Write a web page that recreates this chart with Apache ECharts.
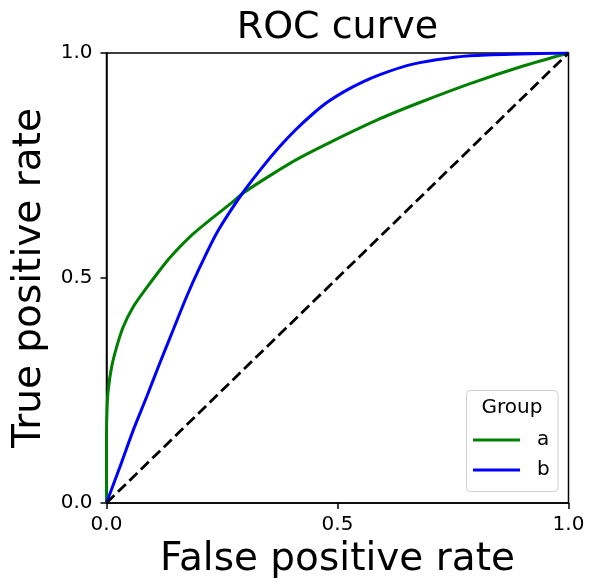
<!DOCTYPE html>
<html>
<head>
<meta charset="utf-8">
<script src="https://cdn.jsdelivr.net/npm/echarts@6/dist/echarts.min.js"></script>
<style>
html,body{margin:0;padding:0;background:#fff;}
#chart{width:589px;height:586px;}
</style>
</head>
<body>
<div id="chart"></div>
<script>
// Data (false positive rate, true positive rate)
const groupNames = ['a', 'b'];
const groupAFpr = [0, 0, 0.0012, 0.0036, 0.011, 0.022, 0.036, 0.058, 0.083, 0.11, 0.137, 0.180, 0.224, 0.267, 0.299, 0.375, 0.418, 0.483, 0.592, 0.678, 0.787, 0.895, 1];
const groupATpr = [0, 0.15, 0.21, 0.250, 0.302, 0.347, 0.391, 0.436, 0.473, 0.510, 0.545, 0.591, 0.629, 0.664, 0.691, 0.741, 0.767, 0.801, 0.854, 0.890, 0.932, 0.969, 1];
const groupBFpr = [0, 0.029, 0.058, 0.087, 0.115, 0.144, 0.174, 0.202, 0.238, 0.274, 0.299, 0.335, 0.375, 0.41, 0.447, 0.48, 0.519, 0.555, 0.592, 0.65, 0.714, 0.787, 0.895, 1];
const groupBTpr = [0, 0.080, 0.162, 0.236, 0.310, 0.384, 0.460, 0.524, 0.599, 0.658, 0.695, 0.743, 0.792, 0.830, 0.865, 0.892, 0.917, 0.936, 0.952, 0.972, 0.985, 0.994, 0.998, 1];
const chanceFpr = [0, 1];
const chanceTpr = [0, 1];
const axisTicks = [0, 0.5, 1];

const pairs = (xs, ys) => xs.map((x, i) => [x, ys[i]]);
const FONT = 'DejaVu Sans';

const chart = echarts.init(document.getElementById('chart'), null, {renderer: 'canvas'});
const axisCommon = {
  type: 'value', min: axisTicks[0], max: axisTicks[axisTicks.length - 1], interval: axisTicks[1] - axisTicks[0],
  splitLine: {show: false},
  axisLine: {show: true, onZero: false, lineStyle: {color: '#000', width: 1.5}},
  axisTick: {show: true, inside: false, length: 6, lineStyle: {color: '#000', width: 1.5}},
  axisLabel: {color: '#000', fontFamily: FONT, fontSize: 20, formatter: v => v.toFixed(1)},
  nameLocation: 'middle',
  nameTextStyle: {color: '#000', fontFamily: FONT, fontSize: 39}
};
chart.setOption({
  animation: false,
  backgroundColor: '#fff',
  grid: {left: 106.5, right: 20.5, top: 53, bottom: 83, show: true, borderColor: '#000', borderWidth: 1.5, containLabel: false},
  xAxis: Object.assign({}, axisCommon, {name: 'False positive rate', nameGap: 37, axisLabel: Object.assign({}, axisCommon.axisLabel, {margin: 12})}),
  yAxis: Object.assign({}, axisCommon, {name: 'True positive rate', nameGap: 52, nameRotate: 90, axisLabel: Object.assign({}, axisCommon.axisLabel, {margin: 14})}),
  legend: {
    data: groupNames, orient: 'vertical', left: 473, top: 430, padding: 0,
    icon: 'path://M0,0 L47,0 L47,3 L0,3 Z',
    itemWidth: 47, itemHeight: 3, itemGap: 10,
    textStyle: {color: '#000', fontFamily: FONT, fontSize: 20, lineHeight: 20, padding: [0, 0, 0, 12]},
    z: 10
  },
  graphic: [
    {type: 'rect', z: 8, shape: {x: 466.5, y: 390.5, width: 91.5, height: 101, r: 4}, style: {fill: 'rgba(255,255,255,0.8)', stroke: '#d0d0d0', lineWidth: 1}},
    {type: 'text', z: 9, x: 512, y: 408, style: {text: 'Group', fontFamily: FONT, fontSize: 20, fill: '#000', align: 'center', verticalAlign: 'middle'}},
    {type: 'text', z: 9, x: 337.5, y: 28, style: {text: 'ROC curve', fontFamily: FONT, fontSize: 38, fill: '#000', align: 'center', verticalAlign: 'middle'}}
  ],
  series: [
    {name: 'a', type: 'line', data: pairs(groupAFpr, groupATpr), smooth: 0.3, symbol: 'none', lineStyle: {color: '#008000', width: 3}, itemStyle: {color: '#008000'}},
    {name: 'b', type: 'line', data: pairs(groupBFpr, groupBTpr), smooth: 0.3, symbol: 'none', lineStyle: {color: '#0000ff', width: 3}, itemStyle: {color: '#0000ff'}},
    {name: 'chance', type: 'line', data: pairs(chanceFpr, chanceTpr), symbol: 'none', lineStyle: {color: '#000', width: 2.8, type: [11, 5]}, itemStyle: {color: '#000'}}
  ]
});
</script>
</body>
</html>
